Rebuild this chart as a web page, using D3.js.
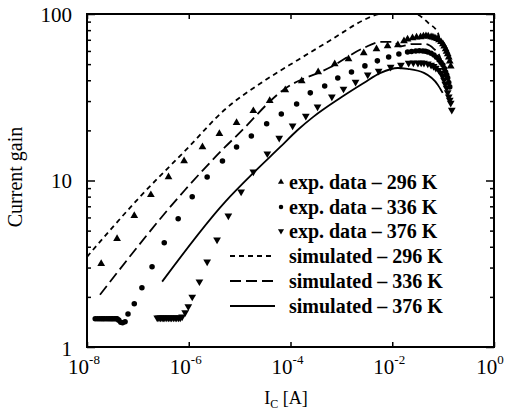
<!DOCTYPE html>
<html>
<head>
<meta charset="utf-8">
<script src="https://cdn.jsdelivr.net/npm/d3@7"></script>
<style>
  body { margin: 0; background: #fff; }
  svg { display: block; }
</style>
</head>
<body>
<div id="chart"></div>
<script>
// --- data ---
const xTicks = [1e-8, 1e-6, 1e-4, 1e-2, 1];
const xTickExps = ['-8', '-6', '-4', '-2', '0'];
const yMinor = [1, 2, 3, 4, 5, 6, 7, 8, 9, 10, 20, 30, 40, 50, 60, 70, 80, 90, 100];
const yTickLabels = ['1', '10', '100'];

// exp. data - 296 K (triangles)
const exp296X = [1.9e-8, 3.9e-8, 8.5e-8, 1.8e-7, 4.0e-7, 8.1e-7, 1.86e-6, 4.0e-6, 8.7e-6, 1.86e-5,
  3.9e-5, 7.9e-5, 1.66e-4, 3.5e-4, 7.4e-4, 1.38e-3, 2.75e-3, 4.9e-3, 8.1e-3, 1.29e-2,
  1.7e-2, 2.0e-2, 2.5e-2, 3.0e-2, 3.6e-2, 4.1e-2, 4.6e-2, 5.1e-2, 5.8e-2, 6.3e-2,
  6.9e-2, 7.6e-2, 8.3e-2, 9.1e-2, 9.9e-2, 0.105, 0.112, 0.117, 0.123, 0.129, 0.135, 0.141];
const exp296Y = [3.16, 4.47, 6.14, 8.2, 10.5, 13.1, 15.9, 19.1, 22.2, 26.2,
  30.1, 35.0, 39.6, 44.9, 50.1, 53.7, 58.3, 61.7, 64.3, 65.2,
  68.9, 70.5, 71.8, 72.5, 72.8, 73.5, 73.8, 73.5, 72.8, 72.5,
  71.8, 71.0, 69.8, 68.0, 66.1, 64.0, 61.7, 59.5, 57.5, 55.0, 52.0, 48.5];

// exp. data - 336 K (circles)
const exp336X = [1.45e-8, 1.6e-8, 1.75e-8, 1.9e-8, 2.05e-8, 2.2e-8, 2.4e-8, 2.6e-8, 2.8e-8, 3.0e-8,
  3.2e-8, 3.45e-8, 3.7e-8, 3.9e-8, 4.2e-8, 4.6e-8, 5.0e-8, 5.6e-8, 6.4e-8, 8.5e-8,
  1.2e-7, 1.9e-7, 3.3e-7, 6.2e-7, 1.17e-6, 2.3e-6, 4.6e-6, 8.7e-6, 1.7e-5, 3.4e-5,
  6.6e-5, 1.32e-4, 2.45e-4, 4.7e-4, 8.5e-4, 1.58e-3, 2.9e-3, 5.1e-3, 8.5e-3, 1.35e-2,
  2.0e-2, 2.4e-2, 2.9e-2, 3.4e-2, 4.0e-2, 4.5e-2, 5.0e-2, 5.8e-2, 6.6e-2, 7.4e-2,
  8.3e-2, 9.1e-2, 9.9e-2, 0.106, 0.112, 0.118, 0.123, 0.129, 0.135];
const exp336Y = [1.48, 1.48, 1.48, 1.48, 1.48, 1.48, 1.48, 1.48, 1.48, 1.48,
  1.48, 1.48, 1.48, 1.48, 1.45, 1.41, 1.40, 1.42, 1.58, 1.82,
  2.27, 3.03, 4.23, 5.89, 7.98, 10.5, 13.1, 15.9, 18.5, 21.9,
  25.1, 28.8, 33.6, 37.0, 41.3, 44.9, 48.8, 52.3, 55.2, 57.5,
  59.2, 59.6, 60.0, 60.2, 60.0, 59.8, 59.2, 58.2, 56.8, 55.0,
  53.0, 51.2, 49.4, 47.0, 44.9, 43.0, 41.3, 38.8, 36.5];

// exp. data - 376 K (inverted triangles)
const exp376X = [2.4e-7, 2.6e-7, 2.8e-7, 3.0e-7, 3.2e-7, 3.4e-7, 3.7e-7, 4.0e-7, 4.3e-7, 4.6e-7,
  5.0e-7, 5.4e-7, 5.8e-7, 6.3e-7, 6.8e-7, 7.4e-7, 8.5e-7, 9.8e-7, 1.17e-6, 1.62e-6,
  2.3e-6, 3.6e-6, 6.0e-6, 1.07e-5, 1.86e-5, 3.5e-5, 6.0e-5, 1.1e-4, 2.0e-4, 3.4e-4,
  6.5e-4, 1.1e-3, 1.9e-3, 3.3e-3, 5.4e-3, 9.3e-3, 1.48e-2, 2.1e-2, 2.6e-2, 3.2e-2,
  3.7e-2, 4.2e-2, 5.0e-2, 5.8e-2, 6.5e-2, 7.2e-2, 8.2e-2, 9.1e-2, 9.8e-2, 0.104,
  0.110, 0.117, 0.123, 0.129, 0.135, 0.141, 0.148];
const exp376Y = [1.5, 1.5, 1.5, 1.5, 1.5, 1.5, 1.5, 1.5, 1.5, 1.5,
  1.5, 1.5, 1.5, 1.5, 1.5, 1.52, 1.61, 1.75, 2.0, 2.47,
  3.25, 4.41, 6.14, 8.55, 11.3, 14.5, 18.0, 21.3, 24.4, 27.7,
  31.8, 35.5, 39.1, 43.1, 45.5, 48.1, 49.4, 50.8, 51.0, 50.8,
  51.0, 50.8, 50.2, 49.4, 48.5, 47.4, 46.0, 44.3, 42.3, 40.2,
  38.0, 36.0, 33.8, 31.8, 30.5, 29.2, 26.5];

// simulated - 296 K (short dashes)
const sim296X = [1e-8, 1.1e-7, 1e-6, 5e-6, 3e-5, 1.4e-4, 6.2e-4, 2.75e-3, 4.4e-3, 7e-3,
  1.5e-2, 2.6e-2, 3.2e-2, 5.2e-2, 7.9e-2, 8.6e-2];
const sim296Y = [3.48, 7.98, 15.9, 26.5, 39.5, 53, 69.8, 92, 98, 101,
  102, 101, 99, 88, 77, 70];

// simulated - 336 K (long dashes)
const sim336X = [1.8e-8, 8.5e-7, 5.2e-6, 9.1e-6, 7.2e-5, 6.2e-4, 2.75e-3, 5.9e-3, 1.07e-2, 1.4e-2,
  2.5e-2, 4.5e-2, 6.5e-2, 8.5e-2, 0.1, 0.115];
const sim336Y = [2.06, 8.8, 15.9, 18.8, 35, 48, 62.5, 68, 68, 64,
  66, 66, 62, 56, 48, 40];

// simulated - 376 K (solid)
const sim376X = [3.0e-7, 5.2e-6, 1.86e-5, 6.3e-5, 1.38e-4, 2.8e-4, 9.8e-4, 2.75e-3, 5.9e-3, 1.29e-2,
  2.0e-2, 4.2e-2, 7.9e-2, 9.8e-2];
const sim376Y = [2.47, 7.45, 11.1, 15.9, 20.1, 24.1, 31.5, 38.5, 44.3, 47.4,
  46.8, 44.3, 37.5, 33.6];

const legendLabels = ['exp. data \u2013 296 K', 'exp. data \u2013 336 K', 'exp. data \u2013 376 K',
  'simulated \u2013 296 K', 'simulated \u2013 336 K', 'simulated \u2013 376 K'];

// --- layout ---
const W = 506, H = 412;
const margin = { top: 14, right: 12, bottom: 65, left: 87 };
const width = W - margin.left - margin.right;
const height = H - margin.top - margin.bottom;
const serif = '"Liberation Serif", "Times New Roman", serif';

const svg = d3.select('#chart').append('svg')
  .attr('width', W)
  .attr('height', H)
  .style('background', '#fff');

const g = svg.append('g')
  .attr('transform', `translate(${margin.left},${margin.top})`);

const x = d3.scaleLog().domain([1e-8, 1]).range([0, width]);
const y = d3.scaleLog().domain([1, 100]).range([height, 0]);

svg.append('defs').append('clipPath').attr('id', 'plotClip')
  .append('rect').attr('width', width).attr('height', height);

// axes (ticks point inward)
const isMajorY = d => [1, 10, 100].includes(d);

g.append('g')
  .attr('transform', `translate(0,${height})`)
  .call(d3.axisBottom(x).tickValues(xTicks).tickSize(-5).tickFormat(''))
  .call(a => a.select('.domain').remove());

g.append('g')
  .call(d3.axisTop(x).tickValues(xTicks).tickSize(-5).tickFormat(''))
  .call(a => a.select('.domain').remove());

g.append('g')
  .call(d3.axisLeft(y).tickValues(yMinor).tickSize(-4).tickPadding(15)
    .tickFormat(d => yTickLabels.includes(String(d)) ? String(d) : ''))
  .call(a => a.select('.domain').remove())
  .call(a => a.selectAll('.tick line').attr('x2', d => isMajorY(d) ? 8 : 4))
  .call(a => a.selectAll('.tick text')
    .attr('dy', d => d === 1 ? '0.42em' : '0.34em')
    .style('font-family', serif).style('font-size', '21px').style('fill', '#000'));

g.append('g')
  .attr('transform', `translate(${width},0)`)
  .call(d3.axisRight(y).tickValues(yMinor).tickSize(-4).tickFormat(''))
  .call(a => a.select('.domain').remove())
  .call(a => a.selectAll('.tick line').attr('x2', d => isMajorY(d) ? -8 : -4));

g.selectAll('.tick line').attr('stroke', '#000').attr('stroke-width', 1.5);

// frame
g.append('rect')
  .attr('width', width)
  .attr('height', height)
  .attr('fill', 'none')
  .attr('stroke', '#000')
  .attr('stroke-width', 2);

// x tick labels as 10^n
const xl = g.append('g')
  .selectAll('text')
  .data(xTicks)
  .enter()
  .append('text')
  .attr('x', (d, i) => x(d) - (i === xTicks.length - 1 ? 4 : 3))
  .attr('y', height + 27)
  .attr('text-anchor', 'middle')
  .style('font-family', serif)
  .style('font-size', '21px');
xl.append('tspan').text('10');
xl.append('tspan')
  .attr('dy', -10)
  .style('font-size', '13px')
  .text((_, i) => xTickExps[i]);

// axis titles
const xt = svg.append('text')
  .attr('x', 286)
  .attr('y', 404)
  .attr('text-anchor', 'middle')
  .style('font-family', serif)
  .style('font-size', '18px');
xt.append('tspan').text('I');
xt.append('tspan').attr('dy', 4).style('font-size', '12px').text('C');
xt.append('tspan').attr('dy', -4).text(' [A]');

svg.append('text')
  .attr('transform', 'translate(22,177) rotate(-90)')
  .attr('text-anchor', 'middle')
  .style('font-family', serif)
  .style('font-size', '20px')
  .text('Current gain');

// simulated curves
const plot = g.append('g').attr('clip-path', 'url(#plotClip)');
const line = d3.line().x(d => x(d[0])).y(d => y(d[1])).curve(d3.curveMonotoneX);

const sims = [
  { xs: sim296X, ys: sim296Y, dash: '5,4' },
  { xs: sim336X, ys: sim336Y, dash: '11,5' },
  { xs: sim376X, ys: sim376Y, dash: null }
];

sims.forEach(s => {
  plot.append('path')
    .datum(d3.zip(s.xs, s.ys))
    .attr('d', line)
    .attr('fill', 'none')
    .attr('stroke', '#000')
    .attr('stroke-width', 1.8)
    .attr('stroke-dasharray', s.dash);
});

// experimental markers
const triUp = d3.symbol().type(d3.symbolTriangle).size(26);
const dot = d3.symbol().type(d3.symbolCircle).size(24);

const drawMarkers = (xs, ys, sym, rot) => {
  plot.append('g')
    .selectAll('path')
    .data(d3.zip(xs, ys))
    .enter()
    .append('path')
    .attr('d', sym)
    .attr('transform', d => `translate(${x(d[0])},${y(d[1])}) rotate(${rot})`)
    .attr('fill', '#000');
};

drawMarkers(exp296X, exp296Y, triUp, 0);
drawMarkers(exp336X, exp336Y, dot, 0);
drawMarkers(exp376X, exp376Y, triUp, 180);

// legend
const legend = svg.append('g');
const rowY = [182, 207, 231, 256, 281, 306];
const legendSyms = [
  { sym: d3.symbol().type(d3.symbolTriangle).size(16), rot: 0 },
  { sym: d3.symbol().type(d3.symbolCircle).size(16), rot: 0 },
  { sym: d3.symbol().type(d3.symbolTriangle).size(16), rot: 180 }
];

legendLabels.forEach((lab, i) => {
  if (i < 3) {
    legend.append('path')
      .attr('d', legendSyms[i].sym)
      .attr('transform', `translate(281,${rowY[i]}) rotate(${legendSyms[i].rot})`)
      .attr('fill', '#000');
  } else {
    legend.append('line')
      .attr('x1', 230).attr('x2', 275)
      .attr('y1', rowY[i]).attr('y2', rowY[i])
      .attr('stroke', '#000')
      .attr('stroke-width', 1.8)
      .attr('stroke-dasharray', sims[i - 3].dash);
  }
  legend.append('text')
    .attr('x', 289)
    .attr('y', rowY[i])
    .attr('dy', '0.35em')
    .style('font-family', serif)
    .style('font-size', '20px')
    .style('font-weight', 'bold')
    .text(lab);
});
</script>
</body>
</html>
